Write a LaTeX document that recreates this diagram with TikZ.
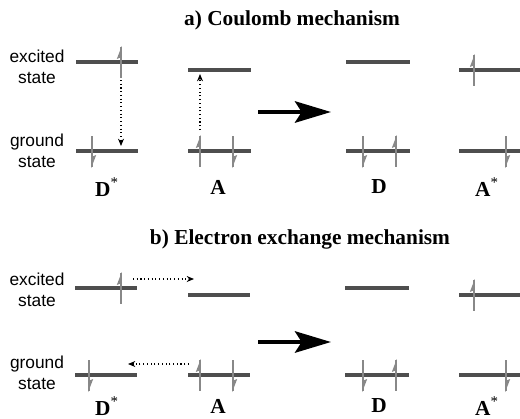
\documentclass[tikz,border=0pt]{standalone}
\usepackage{fontspec}
\setmainfont{Liberation Serif}
\newfontfamily\lsans{Liberation Sans}
\usetikzlibrary{arrows.meta}
\definecolor{lvl}{HTML}{4E4E4E}
\definecolor{ecol}{HTML}{888888}
\tikzset{
  level/.style={draw=lvl, line width=2.6pt},
  elec/.style={draw=ecol, line width=1.8pt},
  dotarrow/.style={dotted, line width=0.8pt, -{Stealth[length=5.5pt,width=4.5pt]}},
  bigarrow/.style={line width=3.2pt, -{Stealth[length=27pt,width=16pt,inset=5pt]}},
  statelab/.style={font=\lsans\fontsize{13pt}{15.8pt}\selectfont, align=center},
  title/.style={font=\bfseries\fontsize{16pt}{18pt}\selectfont},
  mol/.style={font=\bfseries\fontsize{16pt}{18pt}\selectfont}
}
\newcommand\Star{\textsuperscript{\mdseries *}}
\newcommand\Eup[2]{%
  \draw[elec] (#1,#2-15) -- (#1,#2+16);
  \fill[ecol] (#1+0.8,#2-16) -- (#1-4.2,#2-3) -- (#1+0.8,#2-5) -- cycle;}
\newcommand\Edn[2]{%
  \draw[elec] (#1,#2-15) -- (#1,#2+16);
  \fill[ecol] (#1-0.8,#2+17) -- (#1+4.2,#2+4) -- (#1-0.8,#2+6) -- cycle;}
\begin{document}
\begin{tikzpicture}[x=0.75pt,y=-0.75pt]
\useasboundingbox (0,0) rectangle (520,418);
% ---------- a) Coulomb ----------
\node[title] (ta) at (292,20) {a) Coulomb mechanism};
\node[statelab] (exa) at (37,67) {excited\\state};
\node[statelab] (gra) at (37,151) {ground\\state};
% D*
\draw[level] (76,62) -- (138,62);
\draw[level] (76,151) -- (138,151);
\Eup{121}{62}
\Edn{92}{151}
\coordinate (a1s) at (121,80);
\coordinate (a1e) at (121,146);
\draw[dotarrow] (a1s) -- (a1e);
% A
\draw[level] (188,70) -- (251,70);
\draw[level] (188,151) -- (251,151);
\Eup{200}{151}
\Edn{233}{151}
\coordinate (a2s) at (200,130);
\coordinate (a2e) at (200,74);
\draw[dotarrow] (a2s) -- (a2e);
% big arrow
\coordinate (ba1) at (258,112);
\coordinate (ba2) at (331,112);
\draw[bigarrow] (ba1) -- (ba2);
% D
\draw[level] (346,62) -- (410,62);
\draw[level] (346,151) -- (410,151);
\Edn{363}{151}
\Eup{396}{151}
% A*
\draw[level] (459,70) -- (520,70);
\draw[level] (459,151) -- (520,151);
\Eup{474}{70}
\Edn{506}{151}
\node[mol] (l1) at (107,187) {D\Star};
\node[mol] (l2) at (218,187) {A};
\node[mol] (l3) at (379,187) {D};
\node[mol] (l4) at (487,187) {A\Star};
% ---------- b) Exchange ----------
\node[title] (tb) at (300,239) {b) Electron exchange mechanism};
\node[statelab] (exb) at (37,290) {excited\\state};
\node[statelab] (grb) at (37,373) {ground\\state};
% D*
\draw[level] (75,288) -- (137,288);
\draw[level] (75,375) -- (137,375);
\Eup{121}{288}
\Edn{89}{375}
\coordinate (b1s) at (133,279);
\coordinate (b1e) at (194,279);
\draw[dotarrow] (b1s) -- (b1e);
\coordinate (b2s) at (189,364);
\coordinate (b2e) at (128,364);
\draw[dotarrow] (b2s) -- (b2e);
% A
\draw[level] (188,295) -- (250,295);
\draw[level] (188,375) -- (250,375);
\Eup{200}{375}
\Edn{233}{375}
% big arrow
\coordinate (bb1) at (258,342);
\coordinate (bb2) at (331,342);
\draw[bigarrow] (bb1) -- (bb2);
% D
\draw[level] (345,288) -- (409,288);
\draw[level] (345,375) -- (409,375);
\Edn{363}{375}
\Eup{396}{375}
% A*
\draw[level] (459,295) -- (520,295);
\draw[level] (459,375) -- (520,375);
\Eup{474}{295}
\Edn{506}{375}
\node[mol] (m1) at (107,406) {D\Star};
\node[mol] (m2) at (218,406) {A};
\node[mol] (m3) at (379,406) {D};
\node[mol] (m4) at (487,406) {A\Star};
\end{tikzpicture}
\end{document}
